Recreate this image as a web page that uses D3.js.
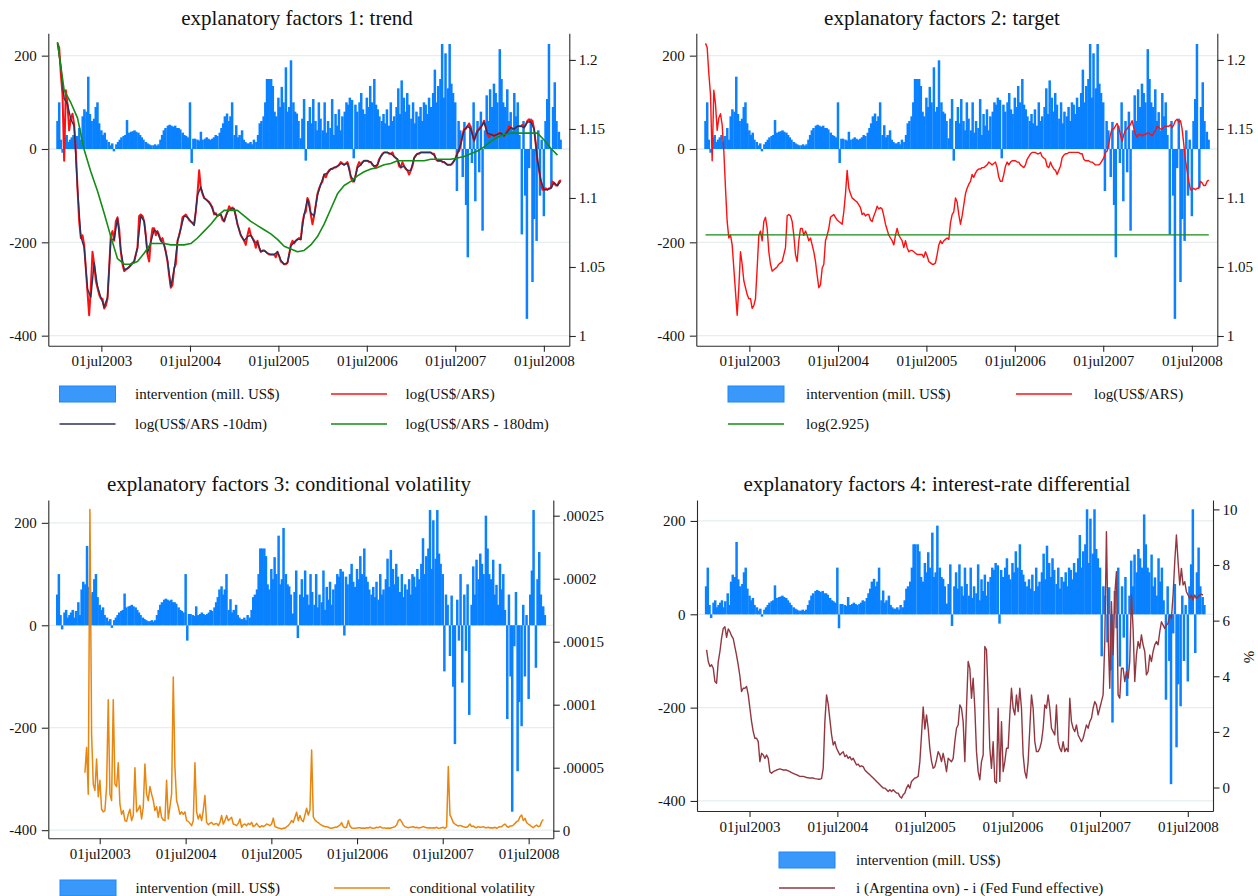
<!DOCTYPE html>
<html>
<head>
<meta charset="utf-8">
<script src="https://cdn.jsdelivr.net/npm/d3@7"></script>
<style>
  body { margin: 0; background: #fff; }
  svg { display: block; font-family: "Liberation Serif", "Times New Roman", serif; }
</style>
</head>
<body>
<svg id="chart" width="1258" height="896"></svg>
<script>
// ---------------- DATA ----------------
const panelTitles = [
  "explanatory factors 1: trend",
  "explanatory factors 2: target",
  "explanatory factors 3: conditional volatility",
  "explanatory factors 4: interest-rate differential"
];
const xTickYears = [2003, 2004, 2005, 2006, 2007, 2008];
const xTickLabels = ["01jul2003", "01jul2004", "01jul2005", "01jul2006", "01jul2007", "01jul2008"];
const leftTicks = [-400, -200, 0, 200];
const leftTickLabels = ["-400", "-200", "0", "200"];
const logTicks = [1, 1.05, 1.1, 1.15, 1.2];
const logTickLabels = ["1", "1.05", "1.1", "1.15", "1.2"];
const volTicks = [0, 0.00005, 0.0001, 0.00015, 0.0002, 0.00025];
const volTickLabels = ["0", ".00005", ".0001", ".00015", ".0002", ".00025"];
const pctTicks = [0, 2, 4, 6, 8, 10];
const pctTickLabels = ["0", "2", "4", "6", "8", "10"];

// Central bank intervention (mill. US$), about weekly: 4 readings per month (days 1, 8, 15, 22)
const intervention2003 = [60,100,20,-8, 25,30,15,20, 25,30,15,28, 45,20,70,85, 80,155,75,60, 65,90,100,55, 40,30,35,20, 15,8,12,-5, 10,15,20,25, 28,30,62,35, 37,38,40,37, 35,30,25,20];
const intervention2004 = [15,12,10,8, 8,10,7,10, 20,30,40,45, 50,52,50,48, 50,45,45,42, 35,30,28,25, 100,-30,22,22, 20,18,37,20, 22,25,22,20, 22,25,30,28, 35,45,55,70, 76,60,70,100];
const intervention2005 = [30,51,25,30, 40,20,15,12, 12,15,10,20, 15,30,55,60, 70,100,150,150, 150,135,80,70, 110,90,133,100, 175,80,90,190, 100,80,76,60, 23,65,107,-25, 60,90,55,107, 60,40,100,65];
const intervention2006 = [40,100,35,60, 45,107,30,75, 50,85,40,70, 80,100,95,110, 105,-20,95,80, 100,120,85,75, 110,90,135,100, 150,95,85,70, 60,75,55,85, 50,100,60,70, 90,130,75,147, 110,80,120,95];
const intervention2007 = [65,100,55,80, 70,90,60,100, 95,75,110,90, 120,170,100,135, 150,225,110,205, 130,225,140,120, 100,-90,60,40, -60,58,-120,-232, 50,-30,100,-112, 60,-50,80,-175, 40,115,60,128, 90,140,120,100];
const intervention2008 = [214,150,100,90, 128,60,79,40, 120,70,100,30, -183,60,-100,-364, -41,65,-285,-150, -197,40,-100,20, -144,60,107,225, -83,90,143,60, 37,20];

// log(US$/ARS), sampled every 6.88 days from 2003-01-01
const logRateStep = 6.88;
const logRate = [
  1.212,1.209,1.190,1.175,1.127,1.178,1.168,1.149,1.158,1.161,
  1.153,1.134,1.107,1.083,1.071,1.073,1.066,1.049,1.032,1.015,
  1.035,1.061,1.052,1.040,1.035,1.030,1.027,1.027,1.020,1.022,
  1.027,1.049,1.073,1.076,1.069,1.083,1.086,1.078,1.061,1.052,
  1.047,1.048,1.049,1.050,1.052,1.053,1.054,1.059,1.064,1.087,
  1.088,1.087,1.083,1.073,1.059,1.054,1.069,1.078,1.078,1.073,
  1.076,1.073,1.069,1.071,1.066,1.061,1.054,1.044,1.035,1.037,
  1.049,1.052,1.069,1.073,1.078,1.086,1.087,1.088,1.086,1.084,
  1.083,1.082,1.081,1.090,1.103,1.120,1.107,1.103,1.100,1.099,
  1.098,1.097,1.095,1.093,1.088,1.089,1.087,1.088,1.088,1.084,
  1.083,1.087,1.090,1.094,1.092,1.093,1.092,1.087,1.081,1.077,
  1.073,1.071,1.069,1.066,1.073,1.078,1.073,1.071,1.069,1.064,
  1.069,1.064,1.061,1.062,1.062,1.061,1.060,1.059,1.059,1.059,
  1.059,1.057,1.061,1.058,1.054,1.053,1.052,1.052,1.053,1.059,
  1.066,1.069,1.067,1.069,1.070,1.071,1.070,
  1.082,1.088,1.090,1.100,1.097,1.088,
  1.081,1.087,1.095,1.103,1.107,1.110,1.112,1.117,1.115,1.118,
  1.120,1.121,1.121,1.122,1.122,1.123,1.124,1.126,1.125,1.124,
  1.125,1.126,1.122,1.115,1.112,1.112,1.117,1.123,1.126,1.124,
  1.126,1.127,1.127,1.127,1.126,1.126,1.124,1.123,1.122,1.124,
  1.128,1.130,1.132,1.133,1.133,1.133,1.132,1.132,1.133,1.130,
  1.129,1.128,1.123,1.122,1.126,1.123,1.121,1.120,1.117,1.120,
  1.123,1.129,1.131,1.132,1.132,1.133,1.133,1.133,1.133,1.133,
  1.133,1.133,1.132,1.132,1.128,1.127,1.127,1.127,1.126,1.126,
  1.125,1.124,1.124,1.124,1.125,1.127,1.129,1.133,1.134,1.139,
  1.146,1.150,1.150,1.152,1.154,1.151,1.146,1.141,1.146,1.149,
  1.150,1.152,1.153,1.156,1.151,1.146,1.144,1.146,1.146,1.145,
  1.146,1.146,1.147,1.147,1.146,1.145,1.147,1.149,1.152,1.151,
  1.150,1.150,1.151,1.152,1.152,1.152,1.153,1.151,1.153,1.156,
  1.157,1.155,1.156,1.150,1.139,1.127,1.120,1.112,1.106,1.106,
  1.107,1.106,1.107,1.107,1.112,1.111,1.109,1.109,1.112,1.113
];

// log(US$/ARS -10dm), every 13.76 days from 2003-01-01
const logRate10dmStep = 13.76;
const logRate10dm = [
  1.212,1.195,1.172,1.168,1.157,1.152,1.107,1.072,1.064,1.034,
  1.028,1.053,1.036,1.028,1.021,1.028,1.070,1.070,1.085,1.062,
  1.048,1.049,1.051,1.054,1.064,1.087,1.083,1.060,1.068,1.077,
  1.075,1.069,1.066,1.055,1.036,1.048,1.068,1.078,1.087,1.086,
  1.083,1.080,1.102,1.108,1.100,1.098,1.095,1.089,1.087,1.088,
  1.083,1.090,1.092,1.092,1.081,1.073,1.069,1.072,1.073,1.068,
  1.068,1.061,1.062,1.060,1.059,1.059,1.061,1.055,1.052,1.053,
  1.065,1.068,1.070,1.070,1.088,1.099,1.089,1.087,1.102,1.110,
  1.117,1.118,1.121,1.122,1.123,1.125,1.124,1.125,1.116,1.112,
  1.122,1.124,1.127,1.127,1.126,1.123,1.124,1.130,1.133,1.133,
  1.132,1.130,1.128,1.122,1.123,1.120,1.120,1.129,1.132,1.133,
  1.133,1.133,1.133,1.131,1.127,1.127,1.126,1.124,1.124,1.127,
  1.132,1.139,1.149,1.152,1.150,1.142,1.148,1.151,1.155,1.147,
  1.146,1.145,1.146,1.147,1.145,1.148,1.151,1.150,1.152,1.152,
  1.151,1.155,1.155,1.150,1.128,1.113,1.106,1.106,1.107,1.111,
  1.109,1.112
];

// log(US$/ARS - 180dm), every 27.52 days from 2003-01-01
const logRate180dmStep = 27.52;
const logRate180dm = [
  1.213,1.178,1.169,1.158,1.135,1.119,1.105,1.089,1.072,1.056,
  1.052,1.052,1.054,1.060,1.067,1.067,1.067,1.066,1.066,1.066,
  1.067,1.071,1.076,1.081,1.087,1.091,1.091,1.091,1.087,1.083,
  1.080,1.077,1.074,1.070,1.065,1.063,1.061,
  1.062,1.066,1.072,1.081,1.092,1.103,1.109,1.112,1.116,1.119,
  1.121,1.122,1.124,1.125,1.127,1.127,1.127,1.127,1.127,1.128,
  1.128,1.128,1.128,1.129,1.130,1.132,1.134,1.137,1.141,1.144,
  1.146,1.147,1.147,1.147,1.147,1.147,1.142,1.136,1.131
];

// target: log(2.925)
const targetRate = 2.925;

// conditional volatility (in units of 1e-5), every 7.1 days from 2003-04-29
const volatilityStep = 7.1;
const volatilityE5 = [
  4.6,6.6,2.9,25.5,7.7,3.7,3.2,5.7,2.7,4.0,
  1.7,1.5,1.6,3.5,10.4,2.9,2.4,10.4,3.7,3.5,
  5.4,2.1,1.3,1.6,0.8,0.74,1.3,1.7,0.8,1.2,
  5.0,1.5,1.7,2.0,0.93,1.9,5.3,2.9,2.4,3.5,
  2.9,2.4,1.6,1.9,1.06,1.9,1.06,0.85,0.8,4.0,
  0.93,1.9,2.9,12.2,5.0,2.4,1.9,1.3,1.5,1.3,
  1.5,0.8,0.74,0.58,0.4,0.8,5.4,1.5,0.93,1.3,
  0.8,1.6,2.8,0.66,0.48,0.58,0.66,0.48,0.53,0.58,
  0.4,0.66,1.2,0.53,0.8,1.2,0.8,0.93,1.06,0.53,
  0.48,0.4,0.58,0.93,0.27,0.48,0.53,0.4,0.58,0.48,
  0.66,0.32,0.4,0.58,0.4,0.27,0.4,0.32,0.4,0.53,
  0.48,0.4,0.53,1.0,0.32,0.27,0.21,0.19,0.13,0.21,
  0.19,0.32,0.4,0.58,0.8,0.66,1.06,1.46,0.8,1.2,
  0.85,0.72,1.25,1.78,1.25,1.65,6.4,1.1,0.85,0.72,
  0.64,0.53,0.45,0.37,0.32,0.32,0.27,0.21,0.19,0.24,
  0.27,0.27,0.37,0.45,0.64,0.32,0.24,0.27,0.8,0.37,
  0.21,0.19,0.19,0.21,0.24,0.24,0.19,0.21,0.19,0.24,
  0.21,0.27,0.21,0.19,0.21,0.27,0.24,0.32,0.24,0.21,
  0.21,0.19,0.21,0.19,0.24,0.27,0.32,0.45,0.8,0.9,
  0.72,0.45,0.32,0.27,0.24,0.27,0.29,0.32,0.24,0.27,
  0.21,0.24,0.27,0.32,0.27,0.24,0.21,0.24,0.21,0.24,
  0.21,0.27,0.19,0.21,0.24,0.27,0.19,0.32,5.1,1.25,
  0.98,0.64,0.53,0.45,0.37,0.42,0.37,0.32,0.27,0.27,
  0.37,0.53,0.32,0.37,0.27,0.24,0.32,0.27,0.27,0.32,
  0.24,0.24,0.27,0.21,0.24,0.21,0.27,0.19,0.27,0.32,
  0.32,0.45,0.53,0.37,0.27,0.37,0.37,0.45,0.58,0.72,
  0.8,1.1,1.25,0.8,0.98,0.64,0.53,0.45,0.32,0.24,
  0.37,0.45,0.32,0.37,0.72,0.9
];

// i (Argentina ovn) - i (Fed Fund effective), %, every 6.945 days from 2003-01-03
const rateDiffStep = 6.945;
const rateDiff = [
  4.95,4.53,4.35,4.41,4.29,3.81,3.75,4.53,4.89,5.37,
  5.72,5.78,5.40,5.70,5.60,5.45,5.35,5.05,4.75,4.40,
  4.00,3.45,3.57,3.57,3.63,3.33,2.85,2.37,2.01,1.77,
  1.77,1.65,0.93,1.23,1.17,1.05,1.17,1.05,0.57,0.51,
  0.57,0.60,0.63,0.65,0.67,0.65,0.63,0.63,0.63,0.60,
  0.57,0.54,0.51,0.48,0.46,0.43,0.40,0.40,0.40,0.38,
  0.36,0.35,0.34,0.34,0.34,0.32,0.31,0.30,0.30,0.32,
  0.69,2.37,3.33,3.00,2.45,1.90,1.53,1.65,1.41,1.29,
  1.17,1.23,1.29,1.11,1.17,1.05,1.11,0.99,1.05,0.93,
  0.81,0.84,0.75,0.78,0.75,0.63,0.57,0.51,0.46,0.40,
  0.34,0.28,0.22,0.16,0.10,0.04,-0.02,-0.02,-0.08,-0.14,
  -0.08,-0.14,-0.08,-0.14,-0.20,-0.20,-0.32,-0.38,-0.26,-0.20,
  -0.02,0.10,-0.02,0.22,0.28,0.34,0.36,0.40,0.93,1.89,
  2.90,2.10,2.61,2.13,1.40,0.95,0.69,0.75,0.99,1.29,
  1.17,0.93,1.23,0.93,0.57,1.05,0.99,0.93,1.05,1.65,
  2.13,2.25,2.97,2.85,2.37,0.93,2.85,4.53,4.29,3.21,
  3.93,2.85,1.29,0.57,0.28,0.93,1.17,5.07,4.95,3.33,
  1.41,0.69,1.65,0.22,0.16,2.85,0.22,2.37,0.57,0.93,
  1.41,1.41,2.61,3.57,2.85,2.61,3.33,2.73,3.57,2.85,
  1.17,0.57,0.34,0.93,2.13,3.33,2.85,1.65,1.29,1.29,
  1.41,1.65,2.13,2.97,2.85,3.33,2.85,2.13,2.01,1.89,
  2.97,1.65,1.41,1.29,1.65,1.29,1.41,1.29,3.21,2.37,
  2.13,2.01,2.25,1.89,1.77,1.65,1.77,2.01,2.25,2.13,
  2.37,2.49,2.85,3.09,2.97,2.61,2.85,3.09,3.33,5.25,
  9.20,5.49,3.57,6.68,4.77,6.92,7.76,3.33,3.21,4.29,
  4.29,3.81,4.17,3.93,4.53,6.92,5.72,3.81,4.77,5.25,
  5.01,5.49,5.13,4.89,4.05,4.17,4.77,4.53,4.89,5.13,
  5.25,5.13,5.60,5.96,5.84,5.72,5.84,5.90,6.20,6.08,
  6.92,8.12,9.08,8.12,7.28,7.88,7.28,7.40,7.04,6.92,
  6.80,6.92,6.74,6.92,6.80,6.86,6.92,6.95,6.92
];

// ---------------- BUILD SERIES ----------------
const DAY = 86400000;
function regular(y, m, d, stepDays, values, scale = 1) {
  const t0 = new Date(y, m, d).getTime();
  return values.map((v, i) => ({ date: new Date(t0 + i * stepDays * DAY), value: v * scale }));
}
function fourPerMonth(year, values) {
  return values.map((v, i) => ({ date: new Date(year, Math.floor(i / 4), 1 + 7 * (i % 4)), value: v }));
}
const interventionSeries = [].concat(
  fourPerMonth(2003, intervention2003), fourPerMonth(2004, intervention2004),
  fourPerMonth(2005, intervention2005), fourPerMonth(2006, intervention2006),
  fourPerMonth(2007, intervention2007), fourPerMonth(2008, intervention2008));
const logRateSeries = regular(2003, 0, 1, logRateStep, logRate);
const logRate10dmSeries = regular(2003, 0, 1, logRate10dmStep, logRate10dm);
const logRate180dmSeries = regular(2003, 0, 1, logRate180dmStep, logRate180dm);
const targetSeries = [
  { date: logRateSeries[0].date, value: Math.log(targetRate) },
  { date: logRateSeries[logRateSeries.length - 1].date, value: Math.log(targetRate) }
];
const volatilitySeries = regular(2003, 3, 29, volatilityStep, volatilityE5, 1e-5);
const rateDiffSeries = regular(2003, 0, 3, rateDiffStep, rateDiff);

// ---------------- STYLE ----------------
const BLUE = "#0a82ff";
const BLUE_LEG = "#3a98fb";
const RED = "#ff1010";
const NAVY = "#2e3258";
const GREEN = "#138d13";
const ORANGE = "#e8860f";
const CRAN = "#923740";
const AXIS = "#2a2a2a";
const GRID = "#e6eef0";

const svg = d3.select("#chart");
const xDomain = [new Date(2002, 10, 24), new Date(2008, 9, 14)];

const panels = [
  { title: panelTitles[0], tx: 297, ty: 25, left: 48.3, right: 569.3, top: 33.3, bottom: 345.7,
    yL: [-421.5, 247.9], yR: [0.99297, 1.2193], rTicks: logTicks, rLabels: logTickLabels,
    lines: [
      { data: logRateSeries, color: RED, width: 2.0 },
      { data: logRate10dmSeries, color: NAVY, width: 1.4 },
      { data: logRate180dmSeries, color: GREEN, width: 1.6 }
    ] },
  { title: panelTitles[1], tx: 942, ty: 25, left: 696.3, right: 1217.3, top: 33.3, bottom: 345.7,
    yL: [-421.5, 247.9], yR: [0.99297, 1.2193], rTicks: logTicks, rLabels: logTickLabels,
    lines: [
      { data: logRateSeries, color: RED, width: 1.4 },
      { data: targetSeries, color: GREEN, width: 1.4 }
    ] },
  { title: panelTitles[2], tx: 289, ty: 491, left: 48.3, right: 553.3, top: 500, bottom: 838.3,
    yL: [-415.9, 244.6], yR: [-6.03e-6, 2.6246e-4], rTicks: volTicks, rLabels: volTickLabels,
    lines: [ { data: volatilitySeries, color: ORANGE, width: 1.5 } ] },
  { title: panelTitles[3], tx: 937, ty: 491, left: 697, right: 1213, top: 500, bottom: 811,
    yL: [-421.5, 244.9], yR: [-0.844, 10.337], rTicks: pctTicks, rLabels: pctTickLabels,
    rTitle: "%",
    lines: [ { data: rateDiffSeries, color: CRAN, width: 1.4 } ] }
];

function styleAxis(g) {
  g.selectAll("path.domain").attr("stroke", AXIS).attr("stroke-width", 1.1);
  g.selectAll(".tick line").attr("stroke", AXIS).attr("stroke-width", 1.1);
  g.selectAll(".tick text").attr("fill", "#111").style("font-size", "15px")
    .style("font-family", '"Liberation Serif", "Times New Roman", serif');
}

panels.forEach(p => {
  const g = svg.append("g");
  const x = d3.scaleTime().domain(xDomain).range([p.left, p.right]);
  const yL = d3.scaleLinear().domain(p.yL).range([p.bottom, p.top]);
  const yR = d3.scaleLinear().domain(p.yR).range([p.bottom, p.top]);

  // gridlines
  g.append("g").selectAll("line").data(leftTicks).join("line")
    .attr("x1", p.left).attr("x2", p.right)
    .attr("y1", d => yL(d)).attr("y2", d => yL(d))
    .attr("stroke", GRID).attr("stroke-width", 1.3);

  // intervention bars
  g.append("g").selectAll("rect").data(interventionSeries).join("rect")
    .attr("x", d => x(d.date) - 1.25)
    .attr("width", 2.5)
    .attr("y", d => yL(Math.max(0, d.value)))
    .attr("height", d => Math.max(0.6, Math.abs(yL(d.value) - yL(0))))
    .attr("fill", BLUE);

  // lines on right axis
  p.lines.forEach(l => {
    g.append("path").datum(l.data)
      .attr("fill", "none").attr("stroke", l.color).attr("stroke-width", l.width)
      .attr("stroke-linejoin", "round")
      .attr("d", d3.line().x(d => x(d.date)).y(d => yR(d.value)));
  });

  // axes
  const axL = g.append("g").attr("transform", `translate(${p.left},0)`)
    .call(d3.axisLeft(yL).tickValues(leftTicks).tickFormat((d, i) => leftTickLabels[i])
      .tickSize(6.5).tickSizeOuter(0).tickPadding(5));
  styleAxis(axL);
  const axR = g.append("g").attr("transform", `translate(${p.right},0)`)
    .call(d3.axisRight(yR).tickValues(p.rTicks).tickFormat((d, i) => p.rLabels[i])
      .tickSize(6.5).tickSizeOuter(0).tickPadding(3));
  styleAxis(axR);
  const axB = g.append("g").attr("transform", `translate(0,${p.bottom})`)
    .call(d3.axisBottom(x).tickValues(xTickYears.map(y => new Date(y, 6, 1)))
      .tickFormat((d, i) => xTickLabels[i]).tickSize(6).tickSizeOuter(0).tickPadding(4));
  styleAxis(axB);

  // title
  g.append("text").attr("x", p.tx).attr("y", p.ty).attr("text-anchor", "middle")
    .style("font-size", "21px").attr("fill", "#111").text(p.title);

  if (p.rTitle) {
    g.append("text").attr("transform", `translate(1251,657) rotate(-90)`)
      .attr("text-anchor", "middle").attr("dominant-baseline", "middle")
      .style("font-size", "15px").attr("fill", "#111").text(p.rTitle);
  }
});

// ---------------- LEGENDS ----------------
const legendItems = [
  // panel 1
  { type: "rect", x: 59.5, y: 394, text: "intervention (mill. US$)", tx: 135 },
  { type: "line", x: 331, y: 394, color: RED, text: "log(US$/ARS)", tx: 405.5 },
  { type: "line", x: 59.5, y: 424, color: NAVY, text: "log(US$/ARS -10dm)", tx: 135 },
  { type: "line", x: 331, y: 424, color: GREEN, text: "log(US$/ARS - 180dm)", tx: 405.5 },
  // panel 2
  { type: "rect", x: 728, y: 394, text: "intervention (mill. US$)", tx: 806 },
  { type: "line", x: 1016, y: 394, color: RED, text: "log(US$/ARS)", tx: 1094 },
  { type: "line", x: 728, y: 424, color: GREEN, text: "log(2.925)", tx: 806 },
  // panel 3
  { type: "rect", x: 60, y: 888, text: "intervention (mill. US$)", tx: 135.5 },
  { type: "line", x: 334, y: 888, color: ORANGE, text: "conditional volatility", tx: 409.5 },
  // panel 4
  { type: "rect", x: 779, y: 860, text: "intervention (mill. US$)", tx: 856 },
  { type: "line", x: 779, y: 888, color: CRAN, text: "i (Argentina ovn) - i (Fed Fund effective)", tx: 856 }
];
const lg = svg.append("g");
legendItems.forEach(it => {
  if (it.type === "rect") {
    lg.append("rect").attr("x", it.x).attr("y", it.y - 8).attr("width", 56).attr("height", 16)
      .attr("fill", BLUE_LEG).attr("stroke", "#1a88ff").attr("stroke-width", 1);
  } else {
    lg.append("line").attr("x1", it.x).attr("x2", it.x + 56).attr("y1", it.y).attr("y2", it.y)
      .attr("stroke", it.color).attr("stroke-width", 1.6);
  }
  lg.append("text").attr("x", it.tx).attr("y", it.y + 5).style("font-size", "15px")
    .attr("fill", "#111").text(it.text);
});
</script>
</body>
</html>
